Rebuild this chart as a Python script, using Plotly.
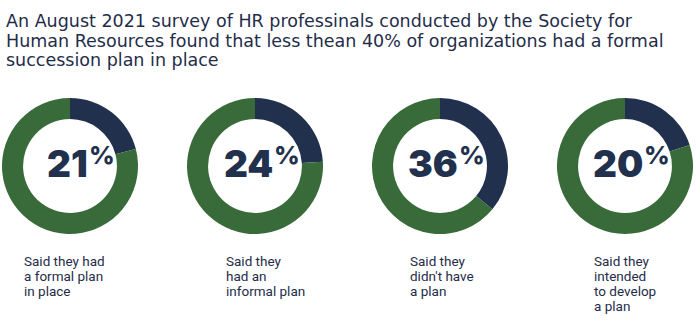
import plotly.graph_objects as go

W, H = 700, 324

title_lines = [
    "An August 2021 survey of HR professinals conducted by the Society for",
    "Human Resources found that less thean 40% of organizations had a formal",
    "succession plan in place",
]
percents = [21, 24, 36, 20]
captions = [
    ["Said they had", "a formal plan", "in place"],
    ["Said they", "had an", "informal plan"],
    ["Said they", "didn't have", "a plan"],
    ["Said they", "intended", "to develop", "a plan"],
]

NAVY = "#21304d"
GREEN = "#386b39"
TEXT = "#1f2d4a"

centers_x = [70, 255, 440, 625]
center_y = 166
R = 68
caption_x = [22, 224, 408, 592]


def px(x):
    return x / W


def py(y):
    return 1 - y / H


fig = go.Figure()
for i, p in enumerate(percents):
    cx = centers_x[i]
    fig.add_trace(go.Pie(
        values=[p, 100 - p],
        labels=["yes", "no"],
        sort=False,
        direction="clockwise",
        rotation=0,
        hole=0.69,
        marker=dict(colors=[NAVY, GREEN], line=dict(width=0)),
        textinfo="none",
        hoverinfo="skip",
        showlegend=False,
        domain=dict(x=[px(cx - R), px(cx + R)], y=[py(center_y + R), py(center_y - R)]),
    ))

annotations = []
# title
for j, line in enumerate(title_lines):
    annotations.append(dict(
        text=line, x=px(4), y=py(21 + j * 19.5), xref="paper", yref="paper",
        xanchor="left", yanchor="middle", showarrow=False, align="left",
        font=dict(family="DejaVu Sans", size=17.5, color=TEXT),
    ))

# big numbers
for i, p in enumerate(percents):
    cx = centers_x[i]
    annotations.append(dict(
        text=f"{p}", x=px(cx + 20), y=py(163), xref="paper", yref="paper",
        xanchor="right", yanchor="middle", showarrow=False,
        font=dict(family="Inter", size=37, color=NAVY, weight=900),
    ))
    annotations.append(dict(
        text="%", x=px(cx + 20), y=py(155), xref="paper", yref="paper",
        xanchor="left", yanchor="middle", showarrow=False, xshift=-3,
        font=dict(family="Inter", size=25, color=NAVY, weight=800),
    ))

# captions
for i, lines in enumerate(captions):
    for j, line in enumerate(lines):
        annotations.append(dict(
            text=line, x=px(caption_x[i]), y=py(261 + j * 15), xref="paper", yref="paper",
            xanchor="left", yanchor="middle", showarrow=False, align="left",
            font=dict(family="Roboto", size=13.5, color=TEXT),
        ))

fig.update_layout(
    width=W, height=H,
    margin=dict(l=0, r=0, t=0, b=0),
    paper_bgcolor="white", plot_bgcolor="white",
    annotations=annotations,
)

fig.write_html("out.html")
